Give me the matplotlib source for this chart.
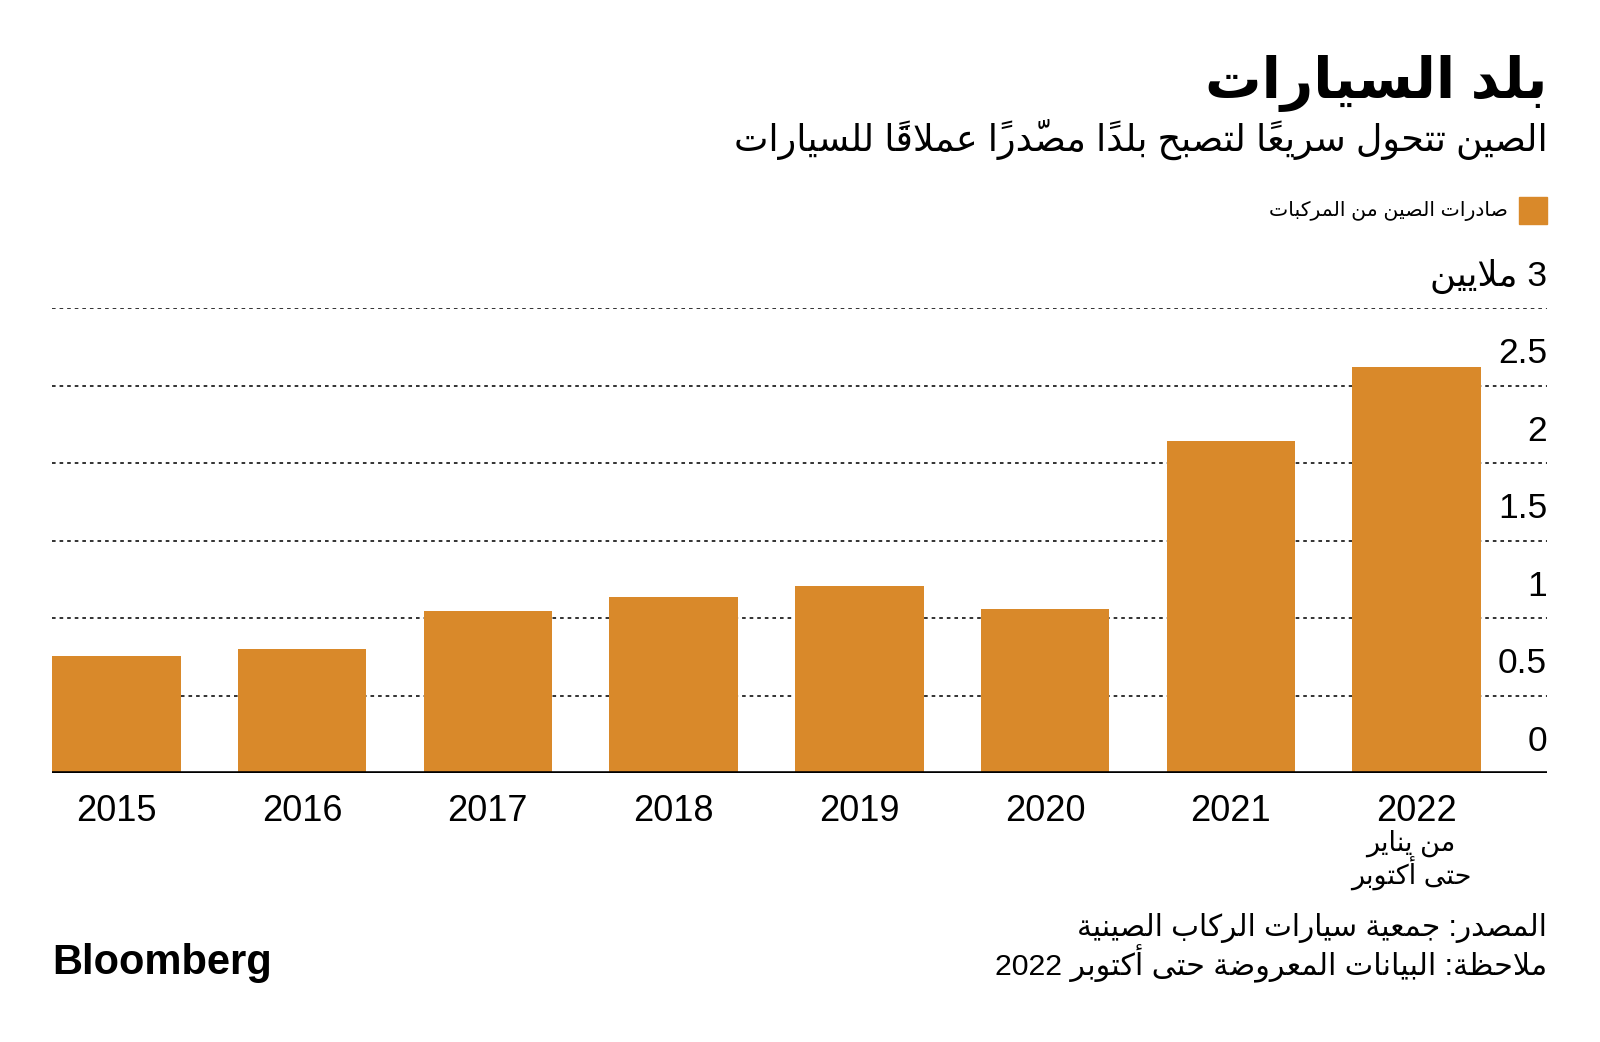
import matplotlib
matplotlib.use("Agg")
import matplotlib.pyplot as plt
from matplotlib.patches import Rectangle

# data
years = ['2015', '2016', '2017', '2018', '2019', '2020', '2021', '2022']
exports = [0.76, 0.80, 1.05, 1.14, 1.21, 1.06, 2.14, 2.62]  # million vehicles
yticks = [0, 0.5, 1, 1.5, 2, 2.5, 3]
ytick_labels = ['0', '0.5', '1', '1.5', '2', '2.5', '3 ملايين']

title = 'بلد السيارات'
subtitle = 'الصين تتحول سريعاً لتصبح بلداً مصدّراً عملاقاً للسيارات'
legend_label = 'صادرات الصين من المركبات'
note_2022 = ['من يناير', 'حتى أكتوبر']
source = 'المصدر: جمعية سيارات الركاب الصينية'
note = 'ملاحظة: البيانات المعروضة حتى أكتوبر 2022'

ORANGE = '#d9892a'
FAM = ['Liberation Sans', 'DejaVu Sans']

# --- minimal arabic shaping (presentation forms) + rtl ordering ---
FORMS = {
    'ا': (0xFE8D, False), 'أ': (0xFE83, False), 'ب': (0xFE8F, True), 'ة': (0xFE93, False),
    'ت': (0xFE95, True), 'ث': (0xFE99, True), 'ج': (0xFE9D, True), 'ح': (0xFEA1, True),
    'خ': (0xFEA5, True), 'د': (0xFEA9, False), 'ذ': (0xFEAB, False), 'ر': (0xFEAD, False),
    'ز': (0xFEAF, False), 'س': (0xFEB1, True), 'ش': (0xFEB5, True), 'ص': (0xFEB9, True),
    'ض': (0xFEBD, True), 'ط': (0xFEC1, True), 'ظ': (0xFEC5, True), 'ع': (0xFEC9, True),
    'غ': (0xFECD, True), 'ف': (0xFED1, True), 'ق': (0xFED5, True), 'ك': (0xFED9, True),
    'ل': (0xFEDD, True), 'م': (0xFEE1, True), 'ن': (0xFEE5, True), 'ه': (0xFEE9, True),
    'و': (0xFEED, False), 'ى': (0xFEEF, False), 'ي': (0xFEF1, True),
}
LAMALEF = {'لا': 0xFEFB, 'لأ': 0xFEF7}


def is_mark(c):
    return '\u064b' <= c <= '\u0652'


def joins(t):
    # (can join to previous, can join to next)
    if t in LAMALEF:
        return True, False
    if t in FORMS:
        return True, FORMS[t][1]
    return False, False


def ar(s):
    tokens = []
    i = 0
    while i < len(s):
        c = s[i]
        if is_mark(c) and tokens:
            tokens[-1][1] += c
            i += 1
            continue
        if c == 'ل' and i + 1 < len(s) and s[i + 1] in 'اأ':
            tokens.append([c + s[i + 1], ''])
            i += 2
            continue
        tokens.append([c, ''])
        i += 1

    clusters = []
    for k, (t, marks) in enumerate(tokens):
        p = k > 0 and joins(tokens[k - 1][0])[1] and joins(t)[0]
        n = k < len(tokens) - 1 and joins(t)[1] and joins(tokens[k + 1][0])[0]
        if t in LAMALEF:
            g = chr(LAMALEF[t] + (1 if p else 0))
        elif t in FORMS:
            base = FORMS[t][0]
            off = 3 if (p and n) else 2 if n else 1 if p else 0
            g = chr(base + off)
        else:
            g = t
        g += marks
        if g.isdigit() or g == '.':
            if clusters and (clusters[-1][0].isdigit()):
                clusters[-1] += g
                continue
        clusters.append(g)
    return ''.join(reversed(clusters))


fig = plt.figure(figsize=(16, 10.42), dpi=100)
ax = fig.add_axes([0.0325, 0.2577, 0.9345, 0.4467])

x = list(range(len(years)))
ax.bar(x, exports, width=0.692, color=ORANGE, zorder=2)
ax.set_xlim(-0.346, 7.703)
ax.set_ylim(0, 3)

for v in yticks[1:]:
    ax.axhline(v, color='#222222', lw=1.3, ls=(0, (2, 2.2)), zorder=1)
ax.axhline(0, color='black', lw=2.6, zorder=3)

for v, lab in zip(yticks, ytick_labels):
    ax.annotate(ar(lab), xy=(1, v), xycoords=('axes fraction', 'data'),
                xytext=(0, 23), textcoords='offset points',
                ha='right', va='center', fontsize=25.5, family=FAM)

ax.set_xticks(x)
ax.set_xticklabels(years, fontsize=26, family=FAM)
ax.tick_params(axis='x', length=0, pad=15)
ax.set_yticks([])
for s in ax.spines.values():
    s.set_visible(False)

for k, line in enumerate(note_2022):
    ax.annotate(ar(line), xy=(7, 0), xycoords='data',
                xytext=(-4, -50 - k * 22.5), textcoords='offset points',
                ha='center', va='center', fontsize=19.5, family=FAM)

fig.text(0.967, 0.906, ar(title), ha='right', va='baseline',
         fontsize=40.5, fontweight='bold', family=FAM)
fig.text(0.967, 0.855, ar(subtitle), ha='right', va='baseline',
         fontsize=26.3, family=FAM)

fig.patches.append(Rectangle((0.9495, 0.7855), 0.0172, 0.0255,
                             transform=fig.transFigure, color=ORANGE))
fig.text(0.9425, 0.7975, ar(legend_label), ha='right', va='center',
         fontsize=14.7, family=FAM)

fig.text(0.967, 0.1095, ar(source), ha='right', va='center', fontsize=21.3, family=FAM)
fig.text(0.967, 0.0748, ar(note), ha='right', va='center', fontsize=21.8, family=FAM)
fig.text(0.0325, 0.0757, 'Bloomberg', ha='left', va='center', fontsize=30,
         fontweight='bold', family='Liberation Sans')

fig.savefig('out.png', dpi=100, facecolor='white')
